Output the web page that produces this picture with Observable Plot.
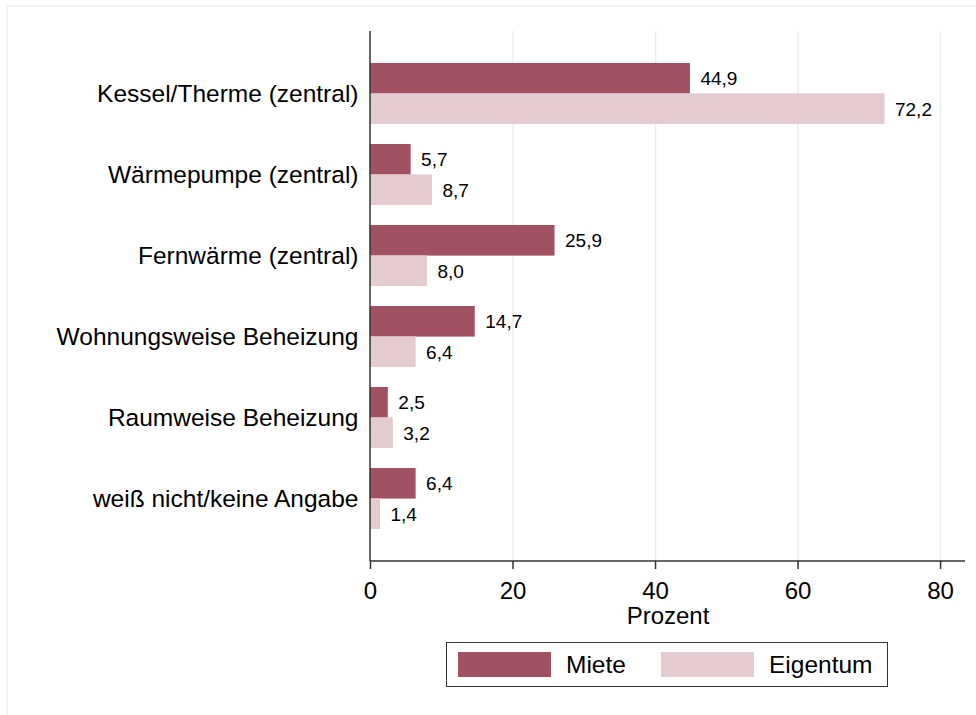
<!DOCTYPE html>
<html>
<head>
<meta charset="utf-8">
<script src="https://cdn.jsdelivr.net/npm/d3@7"></script>
<script src="https://cdn.jsdelivr.net/npm/@observablehq/plot@0.6"></script>
<style>
  html, body { margin: 0; padding: 0; background: #fff; }
  #wrap { position: relative; width: 976px; height: 715px; overflow: hidden; font-family: "Liberation Sans", Arial, sans-serif; }
  #border { position: absolute; left: 6px; top: 5px; right: -20px; bottom: -20px; border: 2px solid #eef3f6; }
  #chart { position: absolute; left: 0; top: 0; }
  #legend { position: absolute; left: 446px; top: 642px; width: 440px; height: 43px; border: 1.5px solid #333; box-sizing: content-box; display: flex; align-items: center; }
  .item { display: flex; align-items: center; font-size: 24.5px; color: #000; }
  .sw { width: 93px; height: 25px; margin-left: 11px; margin-right: 15px; }
</style>
</head>
<body>
<div id="wrap">
  <div id="border"></div>
  <div id="chart"></div>
  <div id="legend"></div>
</div>
<script>
const categories = [
  "Kessel/Therme (zentral)",
  "Wärmepumpe (zentral)",
  "Fernwärme (zentral)",
  "Wohnungsweise Beheizung",
  "Raumweise Beheizung",
  "weiß nicht/keine Angabe"
];
const miete = [44.9, 5.7, 25.9, 14.7, 2.5, 6.4];
const eigentum = [72.2, 8.7, 8.0, 6.4, 3.2, 1.4];
const series = ["Miete", "Eigentum"];
const colors = ["#a05263", "#e3cbd0"];
const xTicks = [0, 20, 40, 60, 80];
const xLabel = "Prozent";

const dataM = categories.map((c, i) => ({cat: c, value: miete[i], series: series[0]}));
const dataE = categories.map((c, i) => ({cat: c, value: eigentum[i], series: series[1]}));
const fmt = v => v.toFixed(1).replace(".", ",");

const H = 640, mTop = 31, mBottom = 79, mLeft = 370, mRight = 11;
const half = 30.4;

function axisLines(index, scales, values, dims) {
  const g = d3.create("svg:g");
  const x0 = scales.x(0);
  g.append("line")
    .attr("x1", dims.marginLeft).attr("x2", dims.width - dims.marginRight)
    .attr("y1", dims.height - dims.marginBottom).attr("y2", dims.height - dims.marginBottom)
    .attr("stroke", "#333").attr("stroke-width", 1.5);
  g.append("line")
    .attr("x1", x0).attr("x2", x0)
    .attr("y1", dims.marginTop).attr("y2", dims.height - dims.marginBottom)
    .attr("stroke", "#333").attr("stroke-width", 1.5);
  return g.node();
}

const plot = Plot.plot({
  width: 976,
  height: H,
  marginTop: mTop,
  marginBottom: mBottom,
  marginLeft: mLeft,
  marginRight: mRight,
  style: {fontFamily: "Liberation Sans, Arial, sans-serif", background: "transparent", color: "#000"},
  x: {domain: [0, 83.5]},
  y: {domain: categories, paddingInner: 0.25, paddingOuter: 0.39},
  marks: [
    Plot.gridX(xTicks.slice(1), {stroke: "#e6eff1", strokeOpacity: 1, strokeWidth: 1.5}),
    Plot.barX(dataM, {x: "value", y: "cat", fill: colors[0], insetBottom: half}),
    Plot.barX(dataE, {x: "value", y: "cat", fill: colors[1], insetTop: half}),
    Plot.text(dataM, {x: "value", y: "cat", text: d => fmt(d.value), dx: 10, dy: -15.5, textAnchor: "start", fontSize: 19, fill: "#000"}),
    Plot.text(dataE, {x: "value", y: "cat", text: d => fmt(d.value), dx: 10, dy: 15.5, textAnchor: "start", fontSize: 19, fill: "#000"}),
    Plot.axisX(xTicks, {tickSize: 8, tickPadding: 12, fontSize: 24, label: null, stroke: "#333", strokeWidth: 1.5}),
    Plot.axisY({tickSize: 0, tickPadding: 12, fontSize: 24.5, label: null}),
    Plot.text([xLabel], {frameAnchor: "bottom", dy: 62, fontSize: 24, fill: "#000"}),
    axisLines
  ]
});
document.getElementById("chart").appendChild(plot);

const legend = document.getElementById("legend");
series.forEach((s, i) => {
  const item = document.createElement("div");
  item.className = "item";
  const sw = document.createElement("div");
  sw.className = "sw";
  sw.style.background = colors[i];
  const lab = document.createElement("span");
  lab.textContent = s;
  item.appendChild(sw);
  item.appendChild(lab);
  if (i === 0) item.style.width = "203px";
  legend.appendChild(item);
});
</script>
</body>
</html>
